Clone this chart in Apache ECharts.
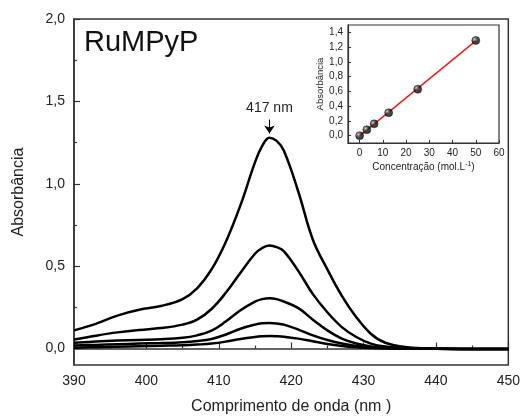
<!DOCTYPE html>
<html>
<head>
<meta charset="utf-8">
<script src="https://cdn.jsdelivr.net/npm/echarts@6/dist/echarts.min.js"></script>
<style>html,body{margin:0;padding:0;background:#fff}#c{width:523px;height:420px}</style>
</head>
<body>
<div id="c"></div>
<script>
// Main spectra
const wavelengths = [390,393,396,399,402,405,407,409,411,413,415,416,417,418,419,421,423,425,427,429,431,433,436,440,445,450];
const spectrum1 = [0.11,0.15,0.20,0.235,0.258,0.30,0.365,0.48,0.65,0.87,1.13,1.23,1.28,1.26,1.20,0.95,0.66,0.48,0.32,0.19,0.09,0.035,0.008,0.0,-0.003,-0.003];
const spectrum2 = [0.055,0.078,0.098,0.113,0.124,0.145,0.175,0.24,0.34,0.46,0.575,0.61,0.625,0.615,0.59,0.47,0.33,0.22,0.13,0.07,0.03,0.012,0.003,0.0,-0.003,-0.003];
const spectrum3 = [0.035,0.042,0.048,0.052,0.056,0.065,0.08,0.108,0.165,0.232,0.285,0.30,0.305,0.30,0.285,0.245,0.175,0.11,0.06,0.03,0.013,0.005,0.0,-0.002,-0.003,-0.003];
const spectrum4 = [0.018,0.022,0.026,0.03,0.033,0.038,0.045,0.058,0.085,0.12,0.145,0.153,0.155,0.152,0.145,0.115,0.08,0.052,0.03,0.015,0.006,0.002,0.0,-0.002,-0.003,-0.003];
const spectrum5 = [0.005,0.008,0.011,0.014,0.017,0.02,0.024,0.03,0.042,0.058,0.07,0.074,0.076,0.075,0.072,0.06,0.044,0.028,0.016,0.008,0.003,0.001,0.0,-0.002,-0.003,-0.003];
const spectra = [spectrum1, spectrum2, spectrum3, spectrum4, spectrum5];

// Inset calibration
const concentration = [0, 3.1, 6.25, 12.5, 25, 50];
const absorbance417 = [0.0, 0.08, 0.16, 0.31, 0.63, 1.29];

// Tick labels
const mainXTicks = [390,400,410,420,430,440,450];
const mainYTicks = [0,0.5,1.0,1.5,2.0];
const mainYMinor = [0.25,0.75,1.25,1.75];
const insetXTicks = [0,10,20,30,40,50,60];
const insetYTicks = [0,0.2,0.4,0.6,0.8,1.0,1.2,1.4];

const peakWavelength = 417;
const peakLabel = '417 nm';

// linear fit
const n = concentration.length;
const mx = concentration.reduce((a,b)=>a+b,0)/n;
const my = absorbance417.reduce((a,b)=>a+b,0)/n;
let sxy=0, sxx=0;
for (let i=0;i<n;i++){sxy+=(concentration[i]-mx)*(absorbance417[i]-my);sxx+=(concentration[i]-mx)**2;}
const slope = sxy/sxx, icpt = my - slope*mx;
const cMin = Math.min(...concentration), cMax = Math.max(...concentration);
const fitLine = [[cMin, icpt+slope*cMin],[cMax, icpt+slope*cMax]];

const comma1 = v => Number(v).toFixed(1).replace('.', ',');
const FONT = '"Liberation Sans", Arial, sans-serif';
const axisCol = '#333';

const chart = echarts.init(document.getElementById('c'));
const lineSeries = spectra.map((s, i) => ({
  type: 'line', xAxisIndex: 0, yAxisIndex: 0,
  data: wavelengths.map((w, j) => [w, s[j]]),
  smooth: 0.4, showSymbol: false, silent: true,
  lineStyle: {color: '#000', width: 2.5},
  z: 3,
  markLine: i === 0 ? {
    silent: true,
    lineStyle: {color: '#000', width: 1, type: 'solid'},
    label: {show: true, position: 'start', formatter: peakLabel, fontSize: 14, color: '#222', fontFamily: FONT, distance: 4},
    data: [[{coord: [peakWavelength, 1.39], symbol: 'none'}, {coord: [peakWavelength, 1.305], symbol: 'arrow', symbolSize: 8}]]
  } : undefined
}));

chart.setOption({
  animation: false,
  textStyle: {fontFamily: FONT},
  title: {text: 'RuMPyP', left: 79, top: 23, textStyle: {fontSize: 29, fontWeight: 'normal', color: '#111', fontFamily: FONT}},
  legend: {
    data: [{name: '417 nm', icon: 'circle'}], left: 359, top: 29, itemWidth: 8, itemHeight: 8, itemGap: 4,
    textStyle: {fontSize: 11, color: '#222', fontFamily: FONT, padding: [0,0,0,4]}
  },
  grid: [
    {left: 74, right: 13, top: 19, bottom: 50, show: true, borderColor: axisCol, borderWidth: 1.5, backgroundColor: 'transparent'},
    {left: 348, right: 24, top: 25, bottom: 277, show: true, borderColor: axisCol, borderWidth: 1.2, backgroundColor: '#fff', z: 5}
  ],
  xAxis: [
    {gridIndex: 0, type: 'value', min: 390, max: 450, interval: 10,
     name: 'Comprimento de onda (nm )', nameLocation: 'middle', nameGap: 34,
     nameTextStyle: {fontSize: 16, color: '#222', fontFamily: FONT},
     axisLine: {lineStyle: {color: axisCol, width: 1.5}},
     axisTick: {inside: true, length: 6, lineStyle: {color: axisCol, width: 1.2}},
     minorTick: {show: true, splitNumber: 2, length: 3, lineStyle: {color: axisCol, width: 1.2}},
     axisLabel: {fontSize: 14, color: '#222', margin: 9, fontFamily: FONT},
     splitLine: {show: false}},
    {gridIndex: 1, type: 'value', min: -5, max: 60,
     name: 'Concentração (mol.L{sup|-1})', nameLocation: 'middle', nameGap: 18,
     nameTextStyle: {fontSize: 10, color: '#222', fontFamily: FONT, rich: {sup: {fontSize: 7, verticalAlign: 'top', padding: [0,0,5,0], color: '#222'}}},
     axisLine: {onZero: false, lineStyle: {color: axisCol, width: 1.2}},
     axisTick: {inside: true, length: 3, customValues: insetXTicks, lineStyle: {color: axisCol}},
     axisLabel: {fontSize: 10, color: '#222', margin: 5, customValues: insetXTicks, fontFamily: FONT},
     splitLine: {show: false}, z: 6}
  ],
  yAxis: [
    {gridIndex: 0, type: 'value', min: -0.1, max: 2.0,
     name: 'Absorbância', nameLocation: 'middle', nameGap: 47,
     nameTextStyle: {fontSize: 16, color: '#222', fontFamily: FONT},
     axisLine: {onZero: false, lineStyle: {color: axisCol, width: 1.5}},
     axisTick: {inside: true, length: 6, customValues: mainYTicks, lineStyle: {color: axisCol, width: 1.2}},
     axisLabel: {fontSize: 14, color: '#222', margin: 9, customValues: mainYTicks, formatter: comma1, fontFamily: FONT},
     splitLine: {show: false}},
    {gridIndex: 0, type: 'value', min: -0.1, max: 2.0, position: 'left',
     axisLine: {show: false},
     axisTick: {inside: true, length: 3, customValues: mainYMinor, lineStyle: {color: axisCol, width: 1.2}},
     axisLabel: {show: false}, splitLine: {show: false}},
    {gridIndex: 1, type: 'value', min: -0.1, max: 1.5,
     name: 'Absorbância', nameLocation: 'middle', nameGap: 16,
     nameTextStyle: {fontSize: 9.5, color: '#222', fontFamily: FONT},
     axisLine: {onZero: false, lineStyle: {color: axisCol, width: 1.2}},
     axisTick: {inside: true, length: 3, customValues: insetYTicks, lineStyle: {color: axisCol}},
     axisLabel: {fontSize: 10, color: '#222', margin: 5, customValues: insetYTicks, formatter: comma1, fontFamily: FONT},
     splitLine: {show: false}, z: 6}
  ],
  series: [
    ...lineSeries,
    {type: 'line', xAxisIndex: 1, yAxisIndex: 2, data: fitLine, showSymbol: false, silent: true,
     lineStyle: {color: '#ee1c1c', width: 1.5}, z: 7},
    {name: '417 nm', type: 'scatter', xAxisIndex: 1, yAxisIndex: 2, symbol: 'circle', symbolSize: 8, z: 8,
     data: concentration.map((c, i) => [c, absorbance417[i]]),
     itemStyle: {color: new echarts.graphic.RadialGradient(0.35, 0.35, 0.7, [{offset: 0, color: '#bbb'}, {offset: 0.45, color: '#222'}, {offset: 1, color: '#000'}]), borderColor: '#000', borderWidth: 0.5}}
  ]
});
</script>
</body>
</html>
